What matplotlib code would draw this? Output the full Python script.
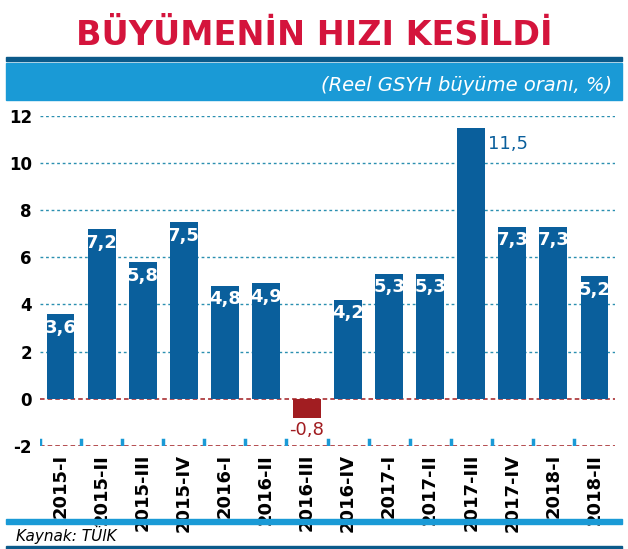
import matplotlib.pyplot as plt
from matplotlib.patches import Rectangle

ceyrekler = ['2015-I', '2015-II', '2015-III', '2015-IV', '2016-I', '2016-II', '2016-III',
             '2016-IV', '2017-I', '2017-II', '2017-III', '2017-IV', '2018-I', '2018-II']
buyume = [3.6, 7.2, 5.8, 7.5, 4.8, 4.9, -0.8, 4.2, 5.3, 5.3, 11.5, 7.3, 7.3, 5.2]

mavi = '#0a5f9c'
kirmizi = '#a11d21'
acik_mavi = '#1a9ad6'
dar = ['Liberation Sans Narrow', 'DejaVu Sans']

fig = plt.figure(figsize=(6.28, 5.49), dpi=100)
ax = fig.add_axes([0.064, 0.188, 0.915, 0.601])

x = list(range(len(buyume)))
renkler = [kirmizi if v < 0 else mavi for v in buyume]
ax.bar(x, buyume, width=0.67, color=renkler, zorder=3)

for y in range(2, 13, 2):
    ax.axhline(y, color='#2a8fb0', ls=(0, (2, 2)), lw=1, zorder=1)
for y in [0, -2]:
    ax.axhline(y, color=kirmizi, ls=(0, (3, 2)), lw=1.1, zorder=2)

for i, v in enumerate(buyume):
    s = f'{v:.1f}'.replace('.', ',')
    if v < 0:
        ax.text(i, v - 0.15, s, ha='center', va='top', color=kirmizi, fontsize=13, family=dar)
    elif v > 10:
        ax.text(i + 0.4, v - 0.3, s, ha='left', va='top', color=mavi, fontsize=13, family=dar)
    else:
        ax.text(i, v - 0.2, s, ha='center', va='top', color='white', fontsize=13,
                fontweight='bold', family=dar, zorder=4)

# kucuk mavi isaretler
for i in range(len(buyume)):
    ax.plot([i - 0.5, i - 0.5], [-2, -1.75], color=acik_mavi, lw=2.5, zorder=3)

ax.set_xlim(-0.5, len(buyume) - 0.5)
ax.set_ylim(-2, 12)
ax.set_yticks(range(-2, 13, 2))
ax.set_yticklabels([str(t) for t in range(-2, 13, 2)], family=dar, fontsize=12, fontweight='bold')
ax.set_xticks(x)
ax.set_xticklabels(ceyrekler, rotation=90, family=dar, fontsize=13, fontweight='bold')
ax.tick_params(length=0, pad=6)
for sp in ax.spines.values():
    sp.set_visible(False)

# baslik ve bantlar
fig.text(0.5, 0.935, 'BÜYÜMENİN HIZI KESİLDİ', ha='center', va='center', color='#d4143c',
         fontsize=24, fontweight='bold', family=dar)
fig.patches.append(Rectangle((0.01, 0.888), 0.98, 0.009, transform=fig.transFigure, color='#0b5a8a'))
fig.patches.append(Rectangle((0.01, 0.818), 0.98, 0.068, transform=fig.transFigure, color=acik_mavi))
fig.text(0.975, 0.845, '(Reel GSYH büyüme oranı, %)', ha='right', va='center', color='white',
         fontsize=14, style='italic')
fig.patches.append(Rectangle((0.01, 0.046), 0.98, 0.008, transform=fig.transFigure, color=acik_mavi))
fig.text(0.025, 0.025, 'Kaynak: TÜlK', ha='left', va='center', fontsize=11, style='italic')
fig.patches.append(Rectangle((0.01, 0.0), 0.98, 0.005, transform=fig.transFigure, color='#0b5a8a'))

fig.savefig('out.png', dpi=100)
